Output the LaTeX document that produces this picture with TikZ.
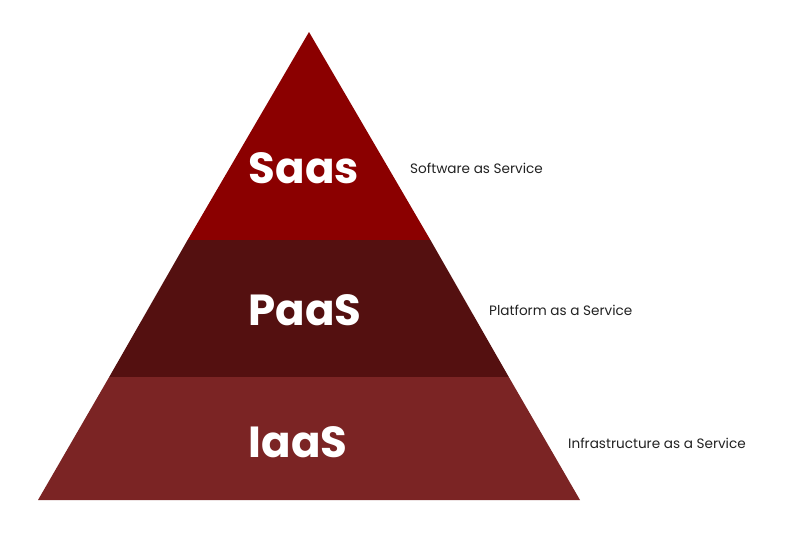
\documentclass[tikz,border=0pt]{standalone}
\usepackage{fontspec}
\setmainfont{Poppins}
\usepackage{xcolor}
\usetikzlibrary{positioning}

\definecolor{saascol}{HTML}{8B0000}
\definecolor{paascol}{HTML}{541010}
\definecolor{iaascol}{HTML}{7B2424}
\definecolor{notecol}{HTML}{222222}

\begin{document}
\begin{tikzpicture}[x=1pt, y=-1pt,
  every node/.style={inner sep=0pt},
  tier/.style={font=\fontsize{43.5}{44}\selectfont\bfseries, text=white},
  note/.style={font=\fontsize{13.6}{15}\selectfont, text=notecol, anchor=west}]
\useasboundingbox (0,0) rectangle (785,533);
% layers of the pyramid
\fill[saascol] (309,32) -- (430.4,240) -- (187.6,240) -- cycle;
\fill[paascol] (187.6,240) -- (430.4,240) -- (508.8,377) -- (109.2,377) -- cycle;
\fill[iaascol] (109.2,377) -- (508.8,377) -- (580,500) -- (38,500) -- cycle;
% tier names
\node[tier] (saas) at (304,168) {Saas};
\node[tier] (paas) at (305,310) {PaaS};
\node[tier] (iaas) at (298,442) {IaaS};
% descriptions
\node[note] (asaas) at (410,168) {Software as Service};
\node[note] (apaas) at (489,310) {Platform as a Service};
\node[note] (aiaas) at (568,443) {Infrastructure as a Service};
\end{tikzpicture}
\end{document}
